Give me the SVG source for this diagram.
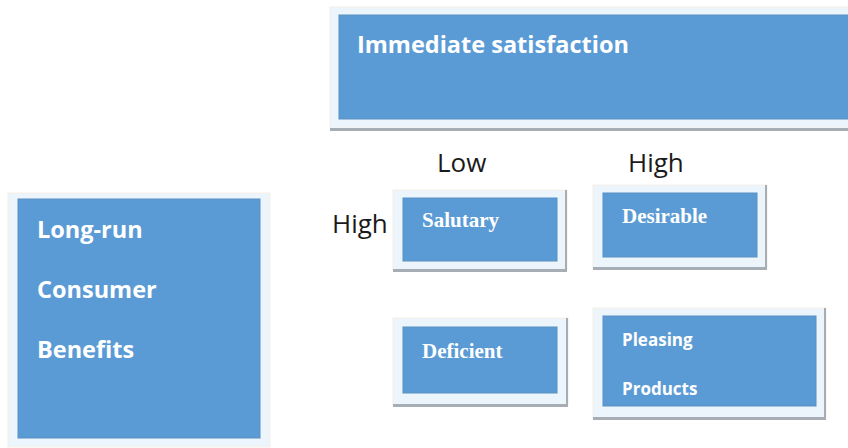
<svg xmlns="http://www.w3.org/2000/svg" width="848" height="448" viewBox="0 0 848 448">
<style>
.frame{fill:#edf5fc;stroke:#f6eee6;stroke-width:1}
.shadow{fill:#a7adb4}
.box{fill:#5b9bd5;stroke:#5a8fc2;stroke-width:1}
.sans{font-family:"Open Sans","Liberation Sans",sans-serif;font-weight:bold;fill:#ffffff}
.serif{font-family:"Liberation Serif","Times New Roman",serif;font-weight:bold;font-size:21px;fill:#ffffff}
.axis{font-family:"Open Sans","Liberation Sans",sans-serif;font-size:26px;fill:#1a1a1a}
</style>
<rect width="848" height="448" fill="#ffffff"/>
<g id="immediate">
<rect class="frame" x="330" y="7" width="520" height="121"/>
<rect class="shadow" x="330" y="128" width="520" height="3"/>
<rect class="box" x="339" y="15" width="512" height="104"/>
<text class="sans" x="357" y="53" font-size="23.5">Immediate satisfaction</text>
</g>
<g id="longrun">
<rect class="frame" x="8" y="193" width="262" height="254"/>
<rect class="box" x="18" y="199" width="242" height="239"/>
<text class="sans" x="37" y="238" font-size="23.5">Long-run</text>
<text class="sans" x="37" y="298" font-size="23.5">Consumer</text>
<text class="sans" x="37" y="358" font-size="23.5">Benefits</text>
</g>
<g id="labels">
<text class="axis" x="437" y="172">Low</text>
<text class="axis" x="628" y="172">High</text>
<text class="axis" x="332" y="233">High</text>
</g>
<g id="salutary">
<rect class="frame" x="393" y="190" width="174" height="80"/>
<rect class="shadow" x="393" y="269" width="174" height="3"/>
<rect class="shadow" x="565" y="190" width="2" height="82"/>
<rect class="box" x="403" y="198" width="154" height="63"/>
<text class="serif" x="422" y="227">Salutary</text>
</g>
<g id="desirable">
<rect class="frame" x="593" y="185" width="174" height="83"/>
<rect class="shadow" x="593" y="267" width="174" height="3"/>
<rect class="shadow" x="765" y="185" width="2" height="85"/>
<rect class="box" x="603" y="193" width="154" height="64"/>
<text class="serif" x="622" y="223">Desirable</text>
</g>
<g id="deficient">
<rect class="frame" x="393" y="318" width="175" height="87"/>
<rect class="shadow" x="393" y="404" width="175" height="3"/>
<rect class="shadow" x="566" y="318" width="2" height="89"/>
<rect class="box" x="403" y="327" width="154" height="66"/>
<text class="serif" x="422" y="358">Deficient</text>
</g>
<g id="pleasing">
<rect class="frame" x="593" y="308" width="233" height="110"/>
<rect class="shadow" x="593" y="417" width="233" height="3"/>
<rect class="shadow" x="824" y="308" width="2" height="112"/>
<rect class="box" x="603" y="316" width="213" height="90"/>
<text class="sans" x="622" y="346" font-size="17">Pleasing</text>
<text class="sans" x="622" y="395" font-size="17">Products</text>
</g>
<g id="connectors"></g>
</svg>
